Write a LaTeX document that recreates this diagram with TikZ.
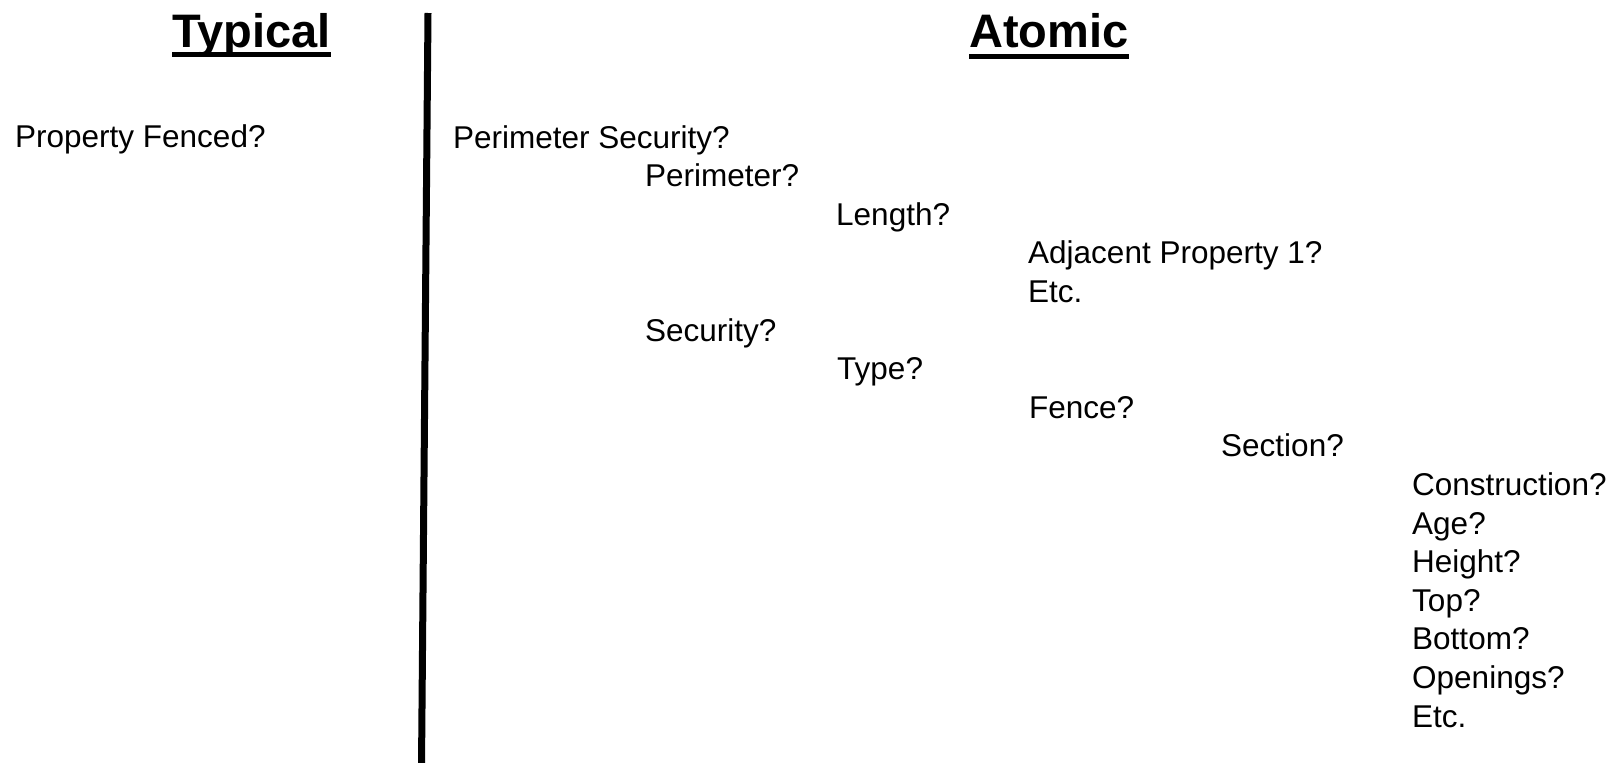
\documentclass[tikz,border=0pt]{standalone}
\usepackage{fontspec}
\setmainfont{Liberation Sans}
\begin{document}
\begin{tikzpicture}[x=1pt,y=-1pt,
  item/.style={anchor=base west,inner sep=0pt,font=\fontsize{31.5}{38}\selectfont},
  head/.style={anchor=base west,inner sep=0pt,font=\fontsize{47}{56}\selectfont\bfseries},
  uline/.style={line width=5pt},
  divider/.style={line width=7pt}]
\useasboundingbox[fill=white] (0,0) rectangle (1615,763);
% headings
\node[head] (typ) at (172,47) {Typical};
\node[head] (atm) at (969,47) {Atomic};
\draw[uline] ([yshift=-7pt]typ.base west) -- ([yshift=-7pt]typ.base east);
\draw[uline] ([yshift=-9pt]atm.base west) -- ([yshift=-9pt]atm.base east);
% divider
\coordinate (dtop) at (428,13);
\coordinate (dbot) at (421.5,766);
\draw[divider] (dtop) -- (dbot);
% left column
\node[item] (pf) at (15,147) {Property Fenced?};
% right tree
\node[item] (ps) at (453,148.0) {Perimeter Security?};
\node[item] (per) at (645,186.6) {Perimeter?};
\node[item] (len) at (836,225.2) {Length?};
\node[item] (adj) at (1028,263.8) {Adjacent Property 1?};
\node[item] (etc1) at (1028,302.4) {Etc.};
\node[item] (sec) at (645,341.0) {Security?};
\node[item] (typ2) at (837,379.6) {Type?};
\node[item] (fen) at (1029,418.2) {Fence?};
\node[item] (sect) at (1221,456.8) {Section?};
\node[item] (con) at (1412,495.4) {Construction?};
\node[item] (age) at (1412,534.0) {Age?};
\node[item] (hei) at (1412,572.6) {Height?};
\node[item] (top) at (1412,611.2) {Top?};
\node[item] (bot) at (1412,649.8) {Bottom?};
\node[item] (ope) at (1412,688.4) {Openings?};
\node[item] (etc2) at (1412,727.0) {Etc.};
\end{tikzpicture}
\end{document}
